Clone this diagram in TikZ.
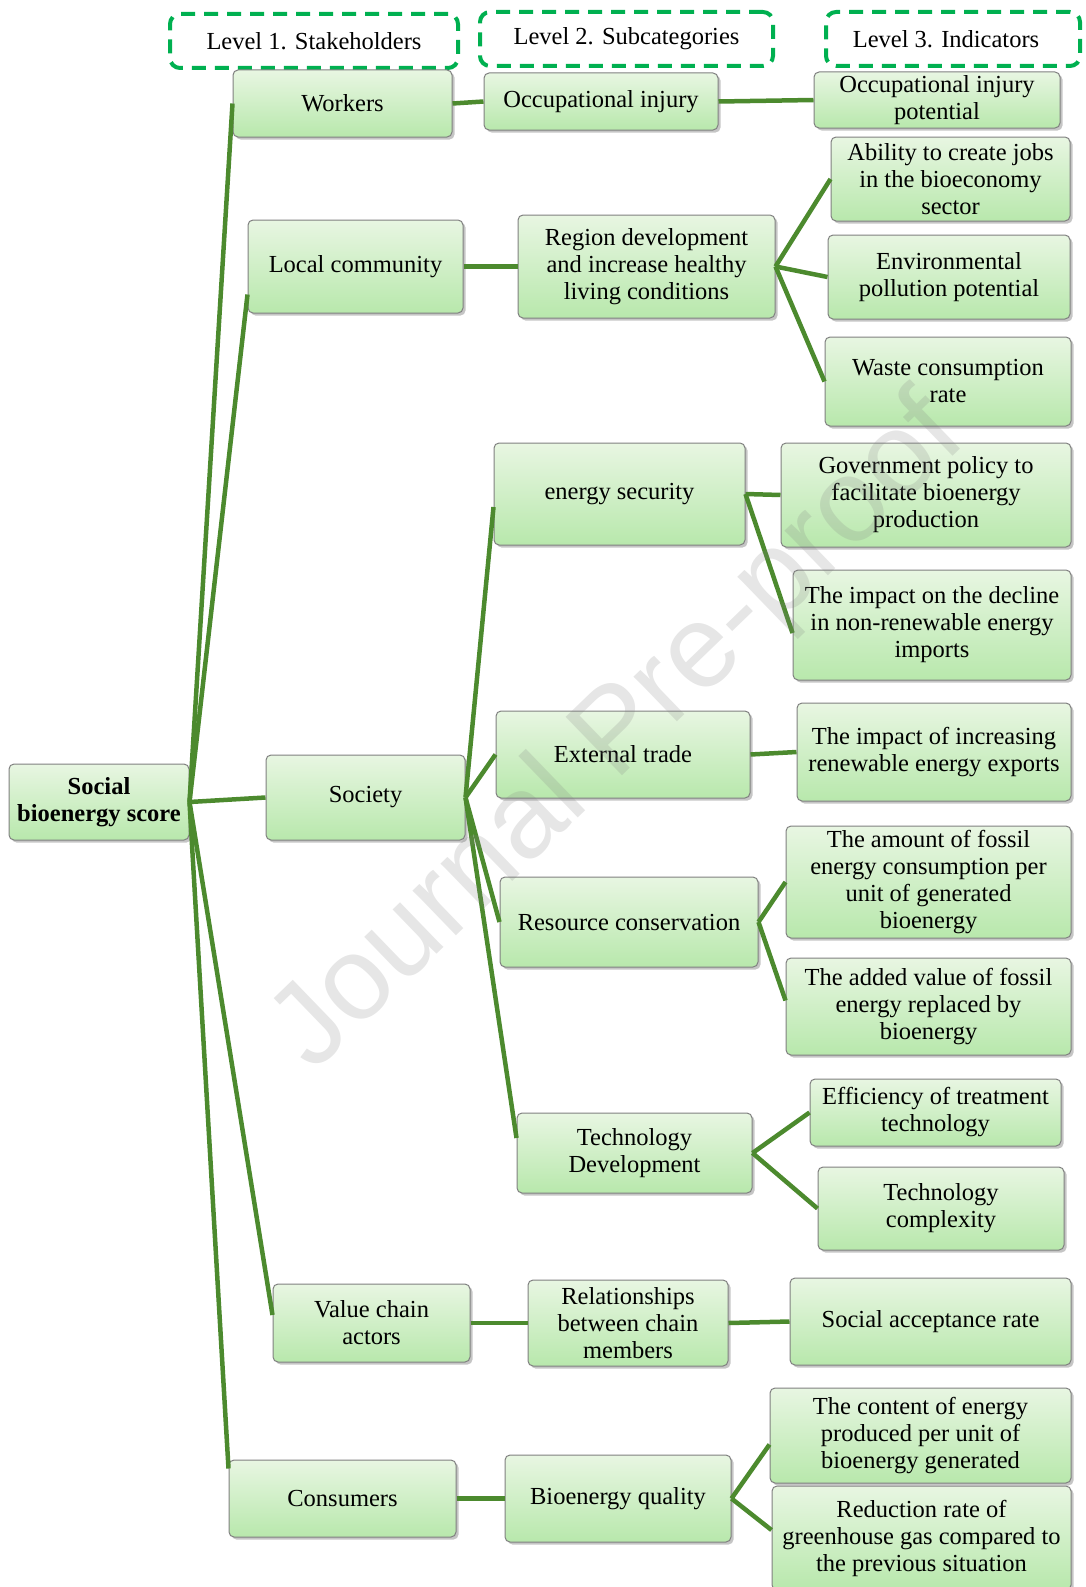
\documentclass[tikz,border=0pt]{standalone}
\usepackage{fontspec}
\setmainfont{Liberation Serif}
\newfontfamily\wmfont{Liberation Sans}
\usetikzlibrary{shadows}
\definecolor{lg}{RGB}{232, 246, 226}
\definecolor{dg}{RGB}{184, 232, 172}
\definecolor{ln}{RGB}{76, 138, 46}
\definecolor{hd}{RGB}{0, 176, 80}

\begin{document}
\begin{tikzpicture}[x=1pt, y=1pt,
  box/.style={rectangle, rounded corners=5pt, draw=black!50, line width=1pt, top color=lg, bottom color=dg, align=center, inner sep=1pt, font=\fontsize{24.5}{27}\selectfont, drop shadow={shadow xshift=2.5pt, shadow yshift=-2.5pt, fill=black!45}},
  head/.style={rectangle, rounded corners=10pt, draw=hd, line width=4pt, dash pattern=on 14pt off 9pt, align=center, font=\fontsize{24.5}{27}\selectfont},
  link/.style={line width=4.5pt, color=ln}]
\useasboundingbox (0pt, 0pt) rectangle (1085pt, -1587pt);
% level headers
\node (h1) [head, minimum width=288pt, minimum height=54pt] at (314.0pt, -41.0pt) {Level 1. Stakeholders};
\node (h2) [head, minimum width=293pt, minimum height=54pt] at (626.5pt, -39.0pt) {Level 2. Subcategories};
\node (h3) [head, minimum width=254pt, minimum height=54pt] at (953.0pt, -39.0pt) {Level 3. Indicators\hspace*{14pt}};
% level 1
\node (root) [box, minimum width=180pt, minimum height=76pt, font=\fontsize{24.5}{27}\selectfont\bfseries] at (99.0pt, -802.0pt) {Social\\bioenergy score};
\node (work) [box, minimum width=219pt, minimum height=67pt] at (342.5pt, -103.5pt) {Workers};
\node (loc) [box, minimum width=215pt, minimum height=93pt] at (355.5pt, -266.5pt) {Local community};
\node (soc) [box, minimum width=199pt, minimum height=85pt] at (365.5pt, -797.5pt) {Society};
\node (val) [box, minimum width=197pt, minimum height=78pt] at (371.5pt, -1323.0pt) {Value chain\\actors};
\node (cons) [box, minimum width=227pt, minimum height=77pt] at (342.5pt, -1498.5pt) {Consumers};
% level 2
\node (occ) [box, minimum width=234pt, minimum height=57pt] at (601.0pt, -101.5pt) {Occupational injury};
\node (reg) [box, minimum width=257pt, minimum height=103pt] at (646.5pt, -266.5pt) {Region development\\and increase healthy\\living conditions};
\node (ensec) [box, minimum width=251pt, minimum height=102pt] at (619.5pt, -494.0pt) {energy security};
\node (ext) [box, minimum width=254pt, minimum height=87pt] at (623.0pt, -754.5pt) {External trade};
\node (res) [box, minimum width=258pt, minimum height=90pt] at (629.0pt, -922.0pt) {Resource conservation};
\node (tech) [box, minimum width=235pt, minimum height=80pt] at (634.5pt, -1153.0pt) {Technology\\Development};
\node (rel) [box, minimum width=200pt, minimum height=86pt] at (628.0pt, -1323.0pt) {Relationships\\between chain\\members};
\node (bio) [box, minimum width=226pt, minimum height=87pt] at (618.0pt, -1498.5pt) {Bioenergy quality};
% level 3
\node (oip) [box, minimum width=246pt, minimum height=56pt] at (937.0pt, -100.0pt) {Occupational injury\\potential};
\node (jobs) [box, minimum width=239pt, minimum height=84pt] at (950.5pt, -179.0pt) {Ability to create jobs\\in the bioeconomy\\sector};
\node (env) [box, minimum width=242pt, minimum height=84pt] at (949.0pt, -277.0pt) {Environmental\\pollution potential};
\node (waste) [box, minimum width=246pt, minimum height=89pt] at (948.0pt, -381.5pt) {Waste consumption\\rate};
\node (gov) [box, minimum width=290pt, minimum height=104pt] at (926.0pt, -495.0pt) {Government policy to\\facilitate bioenergy\\production};
\node (decl) [box, minimum width=278pt, minimum height=110pt] at (932.0pt, -625.0pt) {The impact on the decline\\in non-renewable energy\\imports};
\node (exp) [box, minimum width=274pt, minimum height=98pt] at (934.0pt, -752.0pt) {The impact of increasing\\renewable energy exports};
\node (amt) [box, minimum width=285pt, minimum height=112pt] at (928.5pt, -882.0pt) {The amount of fossil\\energy consumption per\\unit of generated\\bioenergy};
\node (add) [box, minimum width=285pt, minimum height=97pt] at (928.5pt, -1006.5pt) {The added value of fossil\\energy replaced by\\bioenergy};
\node (eff) [box, minimum width=251pt, minimum height=67pt] at (935.5pt, -1112.5pt) {Efficiency of treatment\\technology};
\node (cplx) [box, minimum width=246pt, minimum height=83pt] at (941.0pt, -1208.5pt) {Technology\\complexity};
\node (acc) [box, minimum width=281pt, minimum height=87pt] at (930.5pt, -1321.5pt) {Social acceptance rate};
\node (cont) [box, minimum width=301pt, minimum height=95pt] at (920.5pt, -1435.5pt) {The content of energy\\produced per unit of\\bioenergy generated};
\node (red) [box, minimum width=299pt, minimum height=104pt] at (921.5pt, -1538.0pt) {Reduction rate of\\greenhouse gas compared to\\the previous situation};
% connectors
\draw [link] (root.east) to (work.west);
\draw [link] (root.east) to ([yshift=-28pt]loc.west);
\draw [link] (root.east) to (soc.west);
\draw [link] (root.east) to ([yshift=8pt]val.west);
\draw [link] (root.east) to ([yshift=30pt]cons.west);
\draw [link] (work.east) to (occ.west);
\draw [link] (loc.east) to (reg.west);
\draw [link] (soc.east) to ([yshift=-13pt]ensec.west);
\draw [link] (soc.east) to (ext.west);
\draw [link] (soc.east) to (res.west);
\draw [link] (soc.east) to ([yshift=15pt]tech.west);
\draw [link] (val.east) to (rel.west);
\draw [link] (cons.east) to (bio.west);
\draw [link] (occ.east) to (oip.west);
\draw [link] (reg.east) to (jobs.west);
\draw [link] (reg.east) to (env.west);
\draw [link] (reg.east) to (waste.west);
\draw [link] (ensec.east) to (gov.west);
\draw [link] (ensec.east) to ([yshift=-8pt]decl.west);
\draw [link] (ext.east) to (exp.west);
\draw [link] (res.east) to (amt.west);
\draw [link] (res.east) to ([yshift=6pt]add.west);
\draw [link] (tech.east) to (eff.west);
\draw [link] (tech.east) to (cplx.west);
\draw [link] (rel.east) to (acc.west);
\draw [link] (bio.east) to ([yshift=-9pt]cont.west);
\draw [link] (bio.east) to ([yshift=8pt]red.west);
% watermark
\node (wm) [rotate=44, opacity=0.2, text=gray, font=\wmfont\fontsize{118}{118}\selectfont] at (620pt, -735pt) {Journal Pre-proof};
\end{tikzpicture}
\end{document}
